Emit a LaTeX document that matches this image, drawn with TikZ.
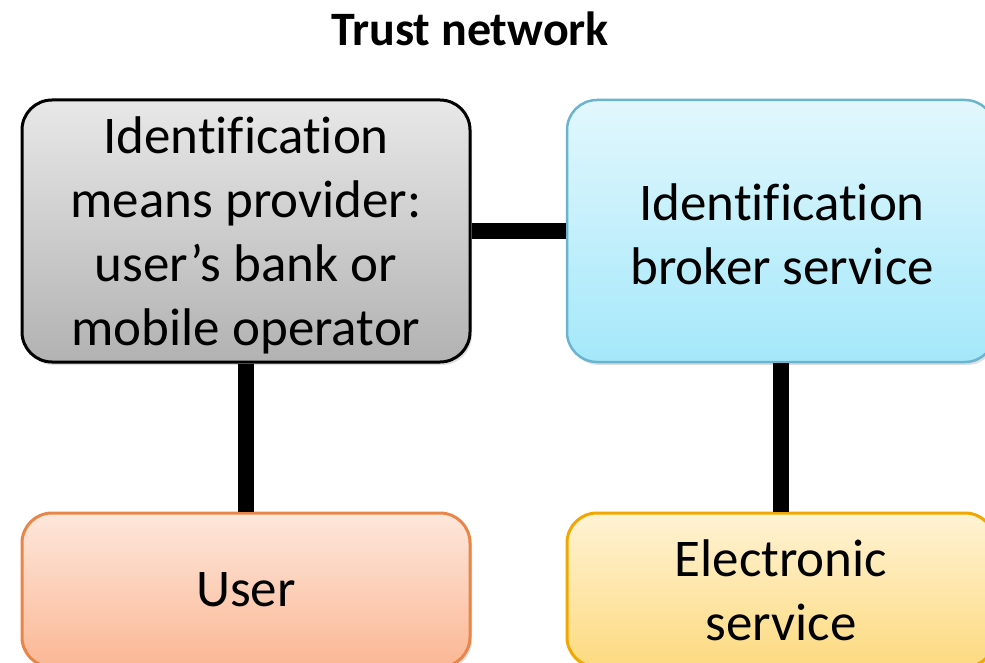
\documentclass[tikz,border=0pt]{standalone}
\usepackage{fontspec}
\setmainfont{Carlito}[Ligatures=NoCommon]
\usetikzlibrary{shadows}
\definecolor{grayTop}{HTML}{E8E8E8}
\definecolor{grayBot}{HTML}{B2B2B2}
\definecolor{cyanTop}{HTML}{E2F7FD}
\definecolor{cyanBot}{HTML}{A4E8FA}
\definecolor{cyanLine}{HTML}{6AB4D0}
\definecolor{userTop}{HTML}{FDE7DB}
\definecolor{userBot}{HTML}{FBB794}
\definecolor{userLine}{HTML}{E8864A}
\definecolor{elecTop}{HTML}{FFF3D4}
\definecolor{elecBot}{HTML}{FDDA80}
\definecolor{elecLine}{HTML}{F0A800}
\tikzset{
  box/.style={rectangle, rounded corners=30pt, line width=3pt, align=center,
    inner sep=0pt, font=\fontsize{53}{64}\selectfont,
    drop shadow={shadow xshift=2pt, shadow yshift=-3pt, opacity=0.25}},
  boxtext/.style={align=center, inner sep=0pt, font=\fontsize{53}{64}\selectfont},
  link/.style={line width=16pt, black}
}
\begin{document}
\begin{tikzpicture}[x=1pt,y=-1pt]
\useasboundingbox (0,0) rectangle (985,663);
\clip (0,0) rectangle (985,663);
\fill[white] (0,0) rectangle (985,663);
\node[font=\fontsize{48}{56}\selectfont\bfseries] (title) at (470,29) {Trust network};
\node[box, draw=black, top color=grayTop, bottom color=grayBot,
  minimum width=448pt, minimum height=262pt] (idp) at (246,231) {};
\node[boxtext] (idptext) at (246,235)
  {Identification\\means provider:\\user’s bank or\\mobile operator};
\node[box, draw=cyanLine, line width=2.5pt, top color=cyanTop, bottom color=cyanBot,
  minimum width=428pt, minimum height=262pt] (broker) at (781,231) {};
\node[boxtext] (brokertext) at (782,234) {Identification\\broker service};
\node[box, draw=userLine, top color=userTop, bottom color=userBot,
  minimum width=448pt, minimum height=154pt] (user) at (246,590) {User};
\node[box, draw=elecLine, top color=elecTop, bottom color=elecBot,
  minimum width=428pt, minimum height=154pt] (elec) at (781,590)
  {Electronic\\service};
\draw[link] (idp.east) -- (broker.west);
\draw[link] (idp.south) -- (user.north);
\draw[link] (broker.south) -- (elec.north);
\end{tikzpicture}
\end{document}
